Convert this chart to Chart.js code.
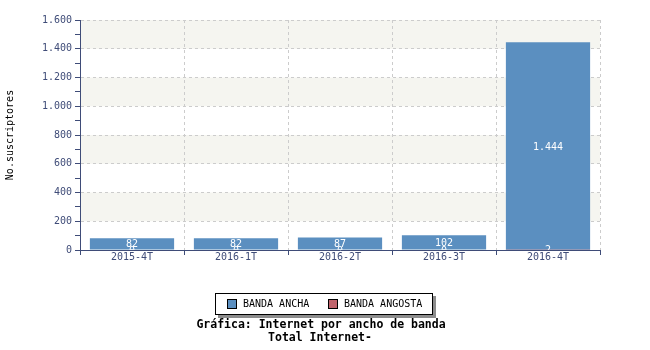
<!DOCTYPE html>
<html lang="es">
<head>
<meta charset="UTF-8">
<title>Internet por ancho de banda</title>
<script src="https://cdn.jsdelivr.net/npm/chart.js"></script>
<style>
  body { margin: 0; background: #fff; }
</style>
</head>
<body>
<canvas id="grafico" width="650" height="350"></canvas>
<script>
// datos de la grafica
const periodos = ['2015-4T', '2016-1T', '2016-2T', '2016-3T', '2016-4T'];
const bandaAncha = [82, 82, 87, 102, 1444];
const bandaAngosta = [0, 0, 0, 0, 2];
const series = ['BANDA ANCHA', 'BANDA ANGOSTA'];
const titulos = ['Gráfica: Internet por ancho de banda', 'Total Internet-'];

const AZUL = '#5b8fc0';
const ROJO = '#c0646c';
const EJE = '#3f4c78';
const MONO = '"DejaVu Sans Mono", monospace';

function conPuntos(v) {
    return String(v).replace(/\B(?=(\d{3})+(?!\d))/g, '.');
}

// franjas grises de fondo
const franjas = {
    id: 'franjas',
    beforeDraw(chart) {
        const { ctx, chartArea, scales: { y } } = chart;
        ctx.save();
        ctx.fillStyle = '#f5f5f0';
        y.ticks.forEach(t => {
            if (t.value % 400 === 200 && t.value < y.max) {
                const y1 = y.getPixelForValue(t.value + 200);
                const y2 = y.getPixelForValue(t.value);
                ctx.fillRect(chartArea.left, y1, chartArea.right - chartArea.left, y2 - y1);
            }
        });
        ctx.restore();
    }
};

// valores dentro de las barras
const etiquetas = {
    id: 'etiquetas',
    afterDatasetsDraw(chart) {
        const { ctx, chartArea } = chart;
        ctx.save();
        ctx.beginPath();
        ctx.rect(chartArea.left, chartArea.top, chartArea.right - chartArea.left, chartArea.bottom - chartArea.top);
        ctx.clip();
        ctx.font = '10px ' + MONO;
        ctx.fillStyle = '#ffffff';
        ctx.textAlign = 'center';
        ctx.textBaseline = 'middle';
        chart.data.datasets.forEach((ds, i) => {
            chart.getDatasetMeta(i).data.forEach((bar, j) => {
                ctx.fillText(conPuntos(ds.data[j]), bar.x, (bar.y + bar.base) / 2 + 1);
            });
        });
        ctx.restore();
    }
};

// leyenda con recuadro y titulos abajo
const leyenda = {
    id: 'leyenda',
    afterDraw(chart) {
        const ctx = chart.ctx;
        ctx.save();
        ctx.fillStyle = '#8c8c8c';
        ctx.fillRect(218, 296, 218, 22);
        ctx.fillStyle = '#ffffff';
        ctx.fillRect(215, 293, 218, 22);
        ctx.strokeStyle = '#000000';
        ctx.lineWidth = 1;
        ctx.strokeRect(215.5, 293.5, 217, 21);

        const items = [
            { texto: series[0], color: AZUL, x: 227 },
            { texto: series[1], color: ROJO, x: 328 }
        ];
        ctx.font = '10px ' + MONO;
        ctx.textBaseline = 'middle';
        ctx.textAlign = 'left';
        items.forEach(it => {
            ctx.fillStyle = it.color;
            ctx.fillRect(it.x, 299, 10, 10);
            ctx.strokeStyle = '#000000';
            ctx.strokeRect(it.x + 0.5, 299.5, 9, 9);
            ctx.fillStyle = '#000000';
            ctx.fillText(it.texto, it.x + 16, 304);
        });

        ctx.font = 'bold 11.5px ' + MONO;
        ctx.textAlign = 'center';
        ctx.fillText(titulos[0], 321, 325);
        ctx.fillText(titulos[1], 320, 338);
        ctx.restore();
    }
};

new Chart(document.getElementById('grafico'), {
    type: 'bar',
    data: {
        labels: periodos,
        datasets: [
            { label: series[1], data: bandaAngosta, backgroundColor: ROJO },
            { label: series[0], data: bandaAncha, backgroundColor: AZUL }
        ]
    },
    options: {
        responsive: false,
        animation: false,
        devicePixelRatio: 1,
        layout: { padding: { left: 0, right: 50, top: 20, bottom: 0 } },
        datasets: {
            bar: { barPercentage: 0.81, categoryPercentage: 1 }
        },
        plugins: {
            legend: { display: false },
            tooltip: { enabled: false }
        },
        scales: {
            x: {
                stacked: true,
                offset: true,
                afterFit: s => { s.height = 100; },
                grid: {
                    offset: true,
                    color: '#cccccc',
                    tickColor: EJE,
                    tickLength: 5,
                    tickBorderDash: [],
                    drawOnChartArea: true
                },
                border: { color: EJE, dash: [3, 3], width: 1 },
                ticks: {
                    color: EJE,
                    padding: -4,
                    font: { family: MONO, size: 10 }
                }
            },
            y: {
                stacked: true,
                min: 0,
                max: 1600,
                afterFit: s => { s.width = 80; },
                grid: {
                    color: c => (c.tick.value % 200 === 0 && c.tick.value > 0) ? '#cccccc' : 'rgba(0,0,0,0)',
                    tickColor: EJE,
                    tickLength: 5,
                    tickBorderDash: []
                },
                border: { color: EJE, width: 1, dash: [3, 3] },
                ticks: {
                    stepSize: 100,
                    autoSkip: false,
                    color: EJE,
                    padding: 3,
                    font: { family: MONO, size: 10 },
                    callback: v => v % 200 === 0 ? conPuntos(v) : ''
                },
                title: {
                    display: true,
                    text: 'No.suscriptores',
                    color: '#000000',
                    padding: { top: 4, bottom: 0 },
                    font: { family: MONO, size: 10 }
                }
            }
        }
    },
    plugins: [franjas, etiquetas, leyenda]
});
</script>
</body>
</html>
